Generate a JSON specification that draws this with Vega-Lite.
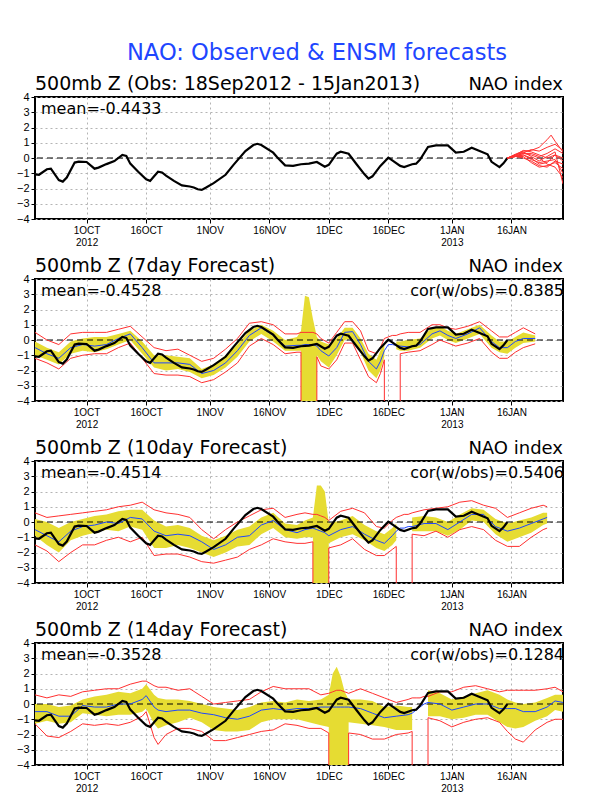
{
  "$schema": "https://vega.github.io/schema/vega-lite/v6.json",
  "background": "white",
  "padding": {"left": 15, "top": 42, "right": 10, "bottom": 5},
  "title": {"text": "NAO: Observed & ENSM forecasts", "color": "#1e46ff", "fontSize": 22.6, "anchor": "middle", "dx": 18, "baseline": "alphabetic", "offset": -9, "frame": "group"},
  "spacing": 60,
  "bounds": "flush",
  "datasets": {
    "obs": [
      {"date": "2012-09-18", "v": -1.07}, {"date": "2012-09-19", "v": -1.1}, {"date": "2012-09-21", "v": -0.74}, {"date": "2012-09-22", "v": -0.7},
      {"date": "2012-09-24", "v": -1.45}, {"date": "2012-09-25", "v": -1.55}, {"date": "2012-09-26", "v": -1.28}, {"date": "2012-09-28", "v": -0.3},
      {"date": "2012-09-29", "v": -0.24}, {"date": "2012-10-01", "v": -0.26}, {"date": "2012-10-03", "v": -0.7}, {"date": "2012-10-04", "v": -0.63},
      {"date": "2012-10-06", "v": -0.4}, {"date": "2012-10-08", "v": -0.2}, {"date": "2012-10-10", "v": 0.2}, {"date": "2012-10-11", "v": 0.13},
      {"date": "2012-10-12", "v": -0.37}, {"date": "2012-10-14", "v": -0.9}, {"date": "2012-10-16", "v": -1.4}, {"date": "2012-10-17", "v": -1.5},
      {"date": "2012-10-18", "v": -1.2}, {"date": "2012-10-19", "v": -0.9}, {"date": "2012-10-20", "v": -0.95}, {"date": "2012-10-21", "v": -1.15},
      {"date": "2012-10-23", "v": -1.5}, {"date": "2012-10-25", "v": -1.8}, {"date": "2012-10-27", "v": -1.87}, {"date": "2012-10-28", "v": -1.93},
      {"date": "2012-10-29", "v": -2.05}, {"date": "2012-10-30", "v": -2.09}, {"date": "2012-10-31", "v": -1.95}, {"date": "2012-11-02", "v": -1.65},
      {"date": "2012-11-05", "v": -1.1}, {"date": "2012-11-07", "v": -0.45}, {"date": "2012-11-10", "v": 0.45}, {"date": "2012-11-12", "v": 0.85},
      {"date": "2012-11-13", "v": 0.93}, {"date": "2012-11-14", "v": 0.85}, {"date": "2012-11-17", "v": 0.35}, {"date": "2012-11-18", "v": 0.05},
      {"date": "2012-11-20", "v": -0.48}, {"date": "2012-11-22", "v": -0.52}, {"date": "2012-11-24", "v": -0.41}, {"date": "2012-11-26", "v": -0.37},
      {"date": "2012-11-28", "v": -0.26}, {"date": "2012-11-30", "v": -0.57}, {"date": "2012-12-01", "v": -0.45}, {"date": "2012-12-03", "v": 0.28},
      {"date": "2012-12-04", "v": 0.41}, {"date": "2012-12-06", "v": 0.28}, {"date": "2012-12-08", "v": -0.41}, {"date": "2012-12-10", "v": -1.07},
      {"date": "2012-12-11", "v": -1.35}, {"date": "2012-12-12", "v": -1.2}, {"date": "2012-12-14", "v": -0.52}, {"date": "2012-12-16", "v": 0.02},
      {"date": "2012-12-17", "v": -0.15}, {"date": "2012-12-19", "v": -0.52}, {"date": "2012-12-20", "v": -0.59}, {"date": "2012-12-22", "v": -0.41},
      {"date": "2012-12-23", "v": -0.37}, {"date": "2012-12-24", "v": -0.1}, {"date": "2012-12-26", "v": 0.72}, {"date": "2012-12-28", "v": 0.83},
      {"date": "2012-12-31", "v": 0.83}, {"date": "2013-01-02", "v": 0.35}, {"date": "2013-01-04", "v": 0.41}, {"date": "2013-01-06", "v": 0.67},
      {"date": "2013-01-08", "v": 0.46}, {"date": "2013-01-10", "v": 0.24}, {"date": "2013-01-11", "v": -0.25}, {"date": "2013-01-13", "v": -0.6},
      {"date": "2013-01-14", "v": -0.35}, {"date": "2013-01-15", "v": 0.0}
    ],
    "ens": [
      {"member": 1, "date": "2013-01-15", "v": 0}, {"member": 1, "date": "2013-01-17", "v": 0.25}, {"member": 1, "date": "2013-01-19", "v": 0.45}, {"member": 1, "date": "2013-01-21", "v": 0.5}, {"member": 1, "date": "2013-01-23", "v": 0.7}, {"member": 1, "date": "2013-01-25", "v": 1.2}, {"member": 1, "date": "2013-01-26", "v": 1.5}, {"member": 1, "date": "2013-01-27", "v": 1.1}, {"member": 1, "date": "2013-01-29", "v": 0.4},
      {"member": 2, "date": "2013-01-15", "v": 0}, {"member": 2, "date": "2013-01-17", "v": 0.2}, {"member": 2, "date": "2013-01-19", "v": 0.35}, {"member": 2, "date": "2013-01-21", "v": 0.55}, {"member": 2, "date": "2013-01-23", "v": 0.45}, {"member": 2, "date": "2013-01-25", "v": 0.7}, {"member": 2, "date": "2013-01-27", "v": 0.9}, {"member": 2, "date": "2013-01-29", "v": 0.5},
      {"member": 3, "date": "2013-01-15", "v": 0}, {"member": 3, "date": "2013-01-17", "v": 0.15}, {"member": 3, "date": "2013-01-19", "v": 0.3}, {"member": 3, "date": "2013-01-21", "v": 0.3}, {"member": 3, "date": "2013-01-23", "v": 0.1}, {"member": 3, "date": "2013-01-25", "v": 0.3}, {"member": 3, "date": "2013-01-27", "v": 0.6}, {"member": 3, "date": "2013-01-29", "v": 0.3},
      {"member": 4, "date": "2013-01-15", "v": 0}, {"member": 4, "date": "2013-01-17", "v": 0.1}, {"member": 4, "date": "2013-01-19", "v": 0.2}, {"member": 4, "date": "2013-01-21", "v": 0.0}, {"member": 4, "date": "2013-01-23", "v": -0.4}, {"member": 4, "date": "2013-01-25", "v": -0.3}, {"member": 4, "date": "2013-01-27", "v": 0.2}, {"member": 4, "date": "2013-01-29", "v": -0.2},
      {"member": 5, "date": "2013-01-15", "v": 0}, {"member": 5, "date": "2013-01-17", "v": 0.1}, {"member": 5, "date": "2013-01-19", "v": 0.1}, {"member": 5, "date": "2013-01-21", "v": -0.3}, {"member": 5, "date": "2013-01-23", "v": -0.6}, {"member": 5, "date": "2013-01-25", "v": -0.5}, {"member": 5, "date": "2013-01-27", "v": -0.3}, {"member": 5, "date": "2013-01-29", "v": -0.7},
      {"member": 6, "date": "2013-01-15", "v": 0}, {"member": 6, "date": "2013-01-17", "v": 0.1}, {"member": 6, "date": "2013-01-19", "v": 0.2}, {"member": 6, "date": "2013-01-21", "v": -0.1}, {"member": 6, "date": "2013-01-23", "v": -0.3}, {"member": 6, "date": "2013-01-25", "v": -0.2}, {"member": 6, "date": "2013-01-27", "v": -0.1}, {"member": 6, "date": "2013-01-29", "v": -1.0},
      {"member": 7, "date": "2013-01-15", "v": 0}, {"member": 7, "date": "2013-01-17", "v": 0.2}, {"member": 7, "date": "2013-01-19", "v": 0.4}, {"member": 7, "date": "2013-01-21", "v": 0.1}, {"member": 7, "date": "2013-01-23", "v": -0.2}, {"member": 7, "date": "2013-01-25", "v": 0.1}, {"member": 7, "date": "2013-01-27", "v": 0.4}, {"member": 7, "date": "2013-01-29", "v": -1.7},
      {"member": 8, "date": "2013-01-15", "v": 0}, {"member": 8, "date": "2013-01-17", "v": 0.1}, {"member": 8, "date": "2013-01-19", "v": 0.3}, {"member": 8, "date": "2013-01-21", "v": 0.2}, {"member": 8, "date": "2013-01-23", "v": 0.0}, {"member": 8, "date": "2013-01-25", "v": -0.4}, {"member": 8, "date": "2013-01-27", "v": -0.6}, {"member": 8, "date": "2013-01-29", "v": -1.3},
      {"member": 9, "date": "2013-01-15", "v": 0}, {"member": 9, "date": "2013-01-17", "v": 0.2}, {"member": 9, "date": "2013-01-19", "v": 0.5}, {"member": 9, "date": "2013-01-21", "v": 0.4}, {"member": 9, "date": "2013-01-23", "v": 0.2}, {"member": 9, "date": "2013-01-25", "v": 0.0}, {"member": 9, "date": "2013-01-27", "v": 0.2}, {"member": 9, "date": "2013-01-29", "v": 0.0},
      {"member": 10, "date": "2013-01-15", "v": 0}, {"member": 10, "date": "2013-01-17", "v": 0.1}, {"member": 10, "date": "2013-01-19", "v": 0.0}, {"member": 10, "date": "2013-01-21", "v": -0.2}, {"member": 10, "date": "2013-01-23", "v": -0.5}, {"member": 10, "date": "2013-01-25", "v": -0.6}, {"member": 10, "date": "2013-01-27", "v": -0.2}, {"member": 10, "date": "2013-01-29", "v": -0.4}
    ],
    "p2": [
      {"date": "2012-09-18", "mean": -0.5, "blo": -1.0, "bhi": -0.1, "rlo": -1.2, "rhi": 0.5},
      {"date": "2012-09-21", "mean": -0.9, "blo": -1.3, "bhi": -0.5, "rlo": -1.5, "rhi": 0.0},
      {"date": "2012-09-24", "mean": -1.2, "blo": -1.6, "bhi": -0.8, "rlo": -1.9, "rhi": -0.3},
      {"date": "2012-09-27", "mean": -0.5, "blo": -0.9, "bhi": -0.1, "rlo": -1.2, "rhi": 0.4},
      {"date": "2012-09-30", "mean": -0.3, "blo": -0.7, "bhi": 0.1, "rlo": -1.0, "rhi": 0.5},
      {"date": "2012-10-03", "mean": -0.4, "blo": -0.8, "bhi": 0.2, "rlo": -0.9, "rhi": 0.5},
      {"date": "2012-10-06", "mean": -0.3, "blo": -0.6, "bhi": 0.2, "rlo": -0.9, "rhi": 0.5},
      {"date": "2012-10-09", "mean": 0.1, "blo": -0.3, "bhi": 0.4, "rlo": -0.5, "rhi": 0.7},
      {"date": "2012-10-12", "mean": 0.4, "blo": 0.0, "bhi": 0.6, "rlo": -0.2, "rhi": 0.9},
      {"date": "2012-10-15", "mean": -0.5, "blo": -0.9, "bhi": -0.1, "rlo": -1.2, "rhi": 0.2},
      {"date": "2012-10-18", "mean": -1.5, "blo": -1.8, "bhi": -1.0, "rlo": -2.2, "rhi": -0.5},
      {"date": "2012-10-21", "mean": -1.5, "blo": -2.0, "bhi": -1.0, "rlo": -2.3, "rhi": -0.7},
      {"date": "2012-10-24", "mean": -1.5, "blo": -1.9, "bhi": -1.1, "rlo": -2.3, "rhi": -0.6},
      {"date": "2012-10-27", "mean": -1.6, "blo": -2.1, "bhi": -1.2, "rlo": -2.4, "rhi": -1.0},
      {"date": "2012-10-30", "mean": -2.2, "blo": -2.5, "bhi": -1.9, "rlo": -2.8, "rhi": -1.4},
      {"date": "2012-11-02", "mean": -2.0, "blo": -2.3, "bhi": -1.6, "rlo": -2.6, "rhi": -1.2},
      {"date": "2012-11-05", "mean": -1.5, "blo": -1.8, "bhi": -1.0, "rlo": -2.1, "rhi": -0.6},
      {"date": "2012-11-08", "mean": -0.7, "blo": -1.1, "bhi": -0.3, "rlo": -1.5, "rhi": 0.1},
      {"date": "2012-11-11", "mean": 0.3, "blo": -0.1, "bhi": 0.6, "rlo": -0.4, "rhi": 1.1},
      {"date": "2012-11-14", "mean": 0.8, "blo": 0.4, "bhi": 1.0, "rlo": 0.1, "rhi": 1.2},
      {"date": "2012-11-17", "mean": 0.3, "blo": -0.1, "bhi": 0.6, "rlo": -0.3, "rhi": 1.0},
      {"date": "2012-11-20", "mean": -0.4, "blo": -0.7, "bhi": 0.0, "rlo": -0.9, "rhi": 0.4},
      {"date": "2012-11-23", "mean": -0.35, "blo": -0.7, "bhi": 0.2, "rlo": -0.8, "rhi": 0.4},
      {"date": "2012-11-24", "mean": -0.35, "blo": -0.7, "bhi": 0.6, "rlo": -0.8, "rhi": 0.5},
      {"date": "2012-11-25", "mean": -0.3, "blo": -999, "bhi": 2.9, "rlo": -999, "rhi": 0.5},
      {"date": "2012-11-26", "mean": -0.3, "blo": -999, "bhi": 2.8, "rlo": -999, "rhi": 0.5},
      {"date": "2012-11-27", "mean": -0.3, "blo": -999, "bhi": 1.4, "rlo": -999, "rhi": 0.5},
      {"date": "2012-11-28", "mean": -0.4, "blo": -1.0, "bhi": 0.2, "rlo": -1.1, "rhi": 0.4},
      {"date": "2012-11-29", "mean": -0.7, "blo": -1.4, "bhi": -0.1, "rlo": -1.7, "rhi": 0.1},
      {"date": "2012-12-01", "mean": -1.05, "blo": -1.8, "bhi": -0.3, "rlo": -1.9, "rhi": -0.2},
      {"date": "2012-12-03", "mean": -0.5, "blo": -1.0, "bhi": 0.1, "rlo": -1.3, "rhi": 0.5},
      {"date": "2012-12-05", "mean": 0.5, "blo": 0.0, "bhi": 0.8, "rlo": -0.2, "rhi": 1.2},
      {"date": "2012-12-07", "mean": 0.55, "blo": 0.1, "bhi": 0.8, "rlo": -0.2, "rhi": 1.2},
      {"date": "2012-12-09", "mean": -0.3, "blo": -0.8, "bhi": 0.1, "rlo": -1.3, "rhi": 0.6},
      {"date": "2012-12-11", "mean": -1.4, "blo": -2.0, "bhi": -0.9, "rlo": -2.4, "rhi": -0.7},
      {"date": "2012-12-13", "mean": -1.9, "blo": -2.5, "bhi": -1.3, "rlo": -2.8, "rhi": -0.9},
      {"date": "2012-12-14", "mean": -1.4, "blo": -2.0, "bhi": -0.7, "rlo": -2.2, "rhi": -0.5},
      {"date": "2012-12-15", "mean": -0.7, "blo": -1.1, "bhi": -0.2, "rlo": -1.3, "rhi": 0.1},
      {"date": "2012-12-16", "mean": -0.3, "blo": -999, "bhi": -999, "rlo": -999, "rhi": 0.2},
      {"date": "2012-12-17", "mean": -0.3, "blo": -999, "bhi": -999, "rlo": -999, "rhi": 0.3},
      {"date": "2012-12-18", "mean": -0.35, "blo": -0.6, "bhi": -0.1, "rlo": -999, "rhi": 0.3},
      {"date": "2012-12-19", "mean": -0.4, "blo": -0.7, "bhi": -0.1, "rlo": -0.9, "rhi": 0.4},
      {"date": "2012-12-21", "mean": -0.45, "blo": -0.7, "bhi": 0.0, "rlo": -0.8, "rhi": 0.5},
      {"date": "2012-12-24", "mean": -0.3, "blo": -0.5, "bhi": 0.1, "rlo": -0.7, "rhi": 0.5},
      {"date": "2012-12-27", "mean": 0.4, "blo": 0.1, "bhi": 0.8, "rlo": -0.3, "rhi": 1.0},
      {"date": "2012-12-29", "mean": 0.6, "blo": 0.3, "bhi": 0.9, "rlo": 0.0, "rhi": 1.0},
      {"date": "2012-12-31", "mean": 0.3, "blo": 0.0, "bhi": 0.6, "rlo": -0.2, "rhi": 0.8},
      {"date": "2013-01-02", "mean": 0.1, "blo": -0.2, "bhi": 0.4, "rlo": -0.4, "rhi": 0.7},
      {"date": "2013-01-05", "mean": 0.4, "blo": 0.1, "bhi": 0.7, "rlo": -0.2, "rhi": 0.9},
      {"date": "2013-01-08", "mean": 0.8, "blo": 0.4, "bhi": 1.0, "rlo": 0.1, "rhi": 1.2},
      {"date": "2013-01-11", "mean": -0.1, "blo": -0.5, "bhi": 0.3, "rlo": -0.8, "rhi": 0.6},
      {"date": "2013-01-13", "mean": -0.5, "blo": -0.8, "bhi": -0.1, "rlo": -1.2, "rhi": 0.2},
      {"date": "2013-01-15", "mean": -0.5, "blo": -0.9, "bhi": -0.1, "rlo": -1.2, "rhi": 0.2},
      {"date": "2013-01-17", "mean": -0.1, "blo": -0.5, "bhi": 0.2, "rlo": -0.8, "rhi": 0.5},
      {"date": "2013-01-19", "mean": 0.1, "blo": -0.2, "bhi": 0.5, "rlo": -0.5, "rhi": 0.8},
      {"date": "2013-01-22", "mean": 0.1, "blo": -0.1, "bhi": 0.3, "rlo": -0.25, "rhi": 0.4}
    ],
    "p3": [
      {"date": "2012-09-18", "mean": -0.5, "blo": -0.9, "bhi": 0.2, "rlo": -1.5, "rhi": 0.6},
      {"date": "2012-09-21", "mean": -0.9, "blo": -1.5, "bhi": 0.0, "rlo": -1.9, "rhi": 0.3},
      {"date": "2012-09-24", "mean": -1.3, "blo": -2.0, "bhi": -0.4, "rlo": -2.6, "rhi": 0.4},
      {"date": "2012-09-27", "mean": -0.6, "blo": -1.2, "bhi": 0.0, "rlo": -2.0, "rhi": 0.5},
      {"date": "2012-09-30", "mean": -0.3, "blo": -0.9, "bhi": 0.2, "rlo": -1.5, "rhi": 0.6},
      {"date": "2012-10-03", "mean": -0.2, "blo": -0.7, "bhi": 0.4, "rlo": -1.5, "rhi": 0.7},
      {"date": "2012-10-06", "mean": 0.0, "blo": -0.5, "bhi": 0.5, "rlo": -1.2, "rhi": 0.8},
      {"date": "2012-10-09", "mean": -0.1, "blo": -0.6, "bhi": 0.7, "rlo": -1.0, "rhi": 1.0},
      {"date": "2012-10-12", "mean": 0.3, "blo": -0.3, "bhi": 0.8, "rlo": -1.3, "rhi": 1.1},
      {"date": "2012-10-15", "mean": 0.2, "blo": -0.5, "bhi": 0.8, "rlo": -1.0, "rhi": 1.3},
      {"date": "2012-10-18", "mean": -0.6, "blo": -1.7, "bhi": 0.1, "rlo": -2.2, "rhi": 0.8},
      {"date": "2012-10-21", "mean": -0.9, "blo": -1.7, "bhi": -0.3, "rlo": -2.1, "rhi": 0.6},
      {"date": "2012-10-24", "mean": -0.8, "blo": -1.5, "bhi": -0.2, "rlo": -2.1, "rhi": 0.5},
      {"date": "2012-10-27", "mean": -0.9, "blo": -1.7, "bhi": -0.4, "rlo": -2.3, "rhi": 0.3},
      {"date": "2012-10-30", "mean": -1.3, "blo": -2.0, "bhi": -0.9, "rlo": -2.6, "rhi": -0.5},
      {"date": "2012-11-02", "mean": -1.8, "blo": -2.3, "bhi": -1.2, "rlo": -2.7, "rhi": -1.1},
      {"date": "2012-11-05", "mean": -1.5, "blo": -2.0, "bhi": -0.9, "rlo": -2.5, "rhi": -0.5},
      {"date": "2012-11-08", "mean": -1.0, "blo": -1.6, "bhi": -0.5, "rlo": -2.3, "rhi": 0.0},
      {"date": "2012-11-11", "mean": -0.9, "blo": -1.5, "bhi": -0.3, "rlo": -1.8, "rhi": 0.4},
      {"date": "2012-11-14", "mean": -0.2, "blo": -0.8, "bhi": 0.3, "rlo": -1.5, "rhi": 0.8},
      {"date": "2012-11-17", "mean": 0.1, "blo": -0.4, "bhi": 0.6, "rlo": -1.1, "rhi": 0.9},
      {"date": "2012-11-20", "mean": -0.5, "blo": -1.0, "bhi": -0.1, "rlo": -1.3, "rhi": 0.3},
      {"date": "2012-11-23", "mean": -0.7, "blo": -1.1, "bhi": -0.2, "rlo": -1.4, "rhi": 0.5},
      {"date": "2012-11-25", "mean": -0.5, "blo": -1.0, "bhi": 0.1, "rlo": -1.4, "rhi": 0.6},
      {"date": "2012-11-27", "mean": -0.4, "blo": -1.0, "bhi": 0.3, "rlo": -1.3, "rhi": 0.5},
      {"date": "2012-11-28", "mean": -0.5, "blo": -999, "bhi": 2.4, "rlo": -999, "rhi": 0.5},
      {"date": "2012-11-29", "mean": -0.6, "blo": -999, "bhi": 2.4, "rlo": -999, "rhi": 0.4},
      {"date": "2012-11-30", "mean": -0.7, "blo": -999, "bhi": 2.0, "rlo": -999, "rhi": 0.3},
      {"date": "2012-12-01", "mean": -0.9, "blo": -1.4, "bhi": -0.1, "rlo": -1.7, "rhi": 0.1},
      {"date": "2012-12-04", "mean": -0.5, "blo": -1.0, "bhi": 0.1, "rlo": -1.5, "rhi": 0.7},
      {"date": "2012-12-07", "mean": -0.3, "blo": -0.8, "bhi": 0.4, "rlo": -1.1, "rhi": 0.9},
      {"date": "2012-12-10", "mean": -0.8, "blo": -1.2, "bhi": -0.2, "rlo": -1.8, "rhi": 0.6},
      {"date": "2012-12-13", "mean": -1.2, "blo": -1.7, "bhi": -0.6, "rlo": -2.2, "rhi": -0.3},
      {"date": "2012-12-15", "mean": -1.4, "blo": -1.9, "bhi": -0.8, "rlo": -2.2, "rhi": -0.4},
      {"date": "2012-12-17", "mean": -0.9, "blo": -1.5, "bhi": -0.4, "rlo": -1.8, "rhi": 0.1},
      {"date": "2012-12-18", "mean": -0.6, "blo": -1.2, "bhi": -0.1, "rlo": -1.6, "rhi": 0.3},
      {"date": "2012-12-19", "mean": -0.4, "blo": -999, "bhi": -999, "rlo": -999, "rhi": 0.4},
      {"date": "2012-12-20", "mean": -0.4, "blo": -999, "bhi": -999, "rlo": -999, "rhi": 0.5},
      {"date": "2012-12-21", "mean": -0.3, "blo": -999, "bhi": -999, "rlo": -999, "rhi": 0.5},
      {"date": "2012-12-22", "mean": -0.3, "blo": -0.6, "bhi": 0.3, "rlo": -0.8, "rhi": 0.6},
      {"date": "2012-12-25", "mean": -0.1, "blo": -0.6, "bhi": 0.4, "rlo": -0.9, "rhi": 0.8},
      {"date": "2012-12-28", "mean": -0.1, "blo": -0.6, "bhi": 0.3, "rlo": -0.6, "rhi": 0.9},
      {"date": "2012-12-31", "mean": -0.5, "blo": -0.9, "bhi": 0.0, "rlo": -1.0, "rhi": 1.0},
      {"date": "2013-01-03", "mean": 0.0, "blo": -0.5, "bhi": 0.5, "rlo": -0.5, "rhi": 1.3},
      {"date": "2013-01-06", "mean": 0.5, "blo": 0.1, "bhi": 0.9, "rlo": -0.3, "rhi": 1.4},
      {"date": "2013-01-09", "mean": 0.5, "blo": 0.0, "bhi": 0.8, "rlo": -0.5, "rhi": 1.1},
      {"date": "2013-01-12", "mean": -0.3, "blo": -0.8, "bhi": 0.2, "rlo": -1.2, "rhi": 0.9},
      {"date": "2013-01-15", "mean": -0.6, "blo": -1.3, "bhi": -0.1, "rlo": -1.6, "rhi": 0.3},
      {"date": "2013-01-18", "mean": -0.4, "blo": -1.0, "bhi": 0.1, "rlo": -1.6, "rhi": 0.6},
      {"date": "2013-01-21", "mean": -0.1, "blo": -0.7, "bhi": 0.3, "rlo": -1.0, "rhi": 0.9},
      {"date": "2013-01-24", "mean": 0.2, "blo": -0.2, "bhi": 0.6, "rlo": -0.5, "rhi": 1.1},
      {"date": "2013-01-25", "mean": 0.3, "blo": -0.1, "bhi": 0.6, "rlo": -0.4, "rhi": 1.0}
    ],
    "p4": [
      {"date": "2012-09-18", "mean": -0.5, "blo": -1.3, "bhi": 0.0, "rlo": -1.3, "rhi": 0.6},
      {"date": "2012-09-21", "mean": -0.5, "blo": -1.1, "bhi": 0.0, "rlo": -2.1, "rhi": 0.4},
      {"date": "2012-09-24", "mean": -0.8, "blo": -1.3, "bhi": -0.2, "rlo": -2.2, "rhi": 0.6},
      {"date": "2012-09-27", "mean": -0.8, "blo": -1.2, "bhi": -0.1, "rlo": -1.8, "rhi": 0.5},
      {"date": "2012-09-30", "mean": -0.1, "blo": -0.6, "bhi": 0.3, "rlo": -1.3, "rhi": 0.8},
      {"date": "2012-10-03", "mean": -0.2, "blo": -0.7, "bhi": 0.5, "rlo": -1.4, "rhi": 0.9},
      {"date": "2012-10-06", "mean": -0.2, "blo": -0.8, "bhi": 0.6, "rlo": -1.3, "rhi": 1.0},
      {"date": "2012-10-09", "mean": 0.0, "blo": -0.7, "bhi": 0.8, "rlo": -1.4, "rhi": 1.0},
      {"date": "2012-10-12", "mean": 0.0, "blo": -0.7, "bhi": 0.7, "rlo": -1.2, "rhi": 1.3},
      {"date": "2012-10-15", "mean": 0.3, "blo": -0.5, "bhi": 1.0, "rlo": -0.8, "rhi": 1.5},
      {"date": "2012-10-16", "mean": 0.55, "blo": -0.3, "bhi": 1.3, "rlo": -0.5, "rhi": 1.5},
      {"date": "2012-10-18", "mean": -0.2, "blo": -1.3, "bhi": 0.6, "rlo": -2.2, "rhi": 1.2},
      {"date": "2012-10-19", "mean": -0.4, "blo": -1.6, "bhi": 0.4, "rlo": -2.65, "rhi": 1.1},
      {"date": "2012-10-21", "mean": -0.5, "blo": -1.4, "bhi": 0.3, "rlo": -2.0, "rhi": 1.1},
      {"date": "2012-10-24", "mean": -0.4, "blo": -1.2, "bhi": 0.3, "rlo": -1.6, "rhi": 0.9},
      {"date": "2012-10-27", "mean": -0.4, "blo": -0.9, "bhi": 0.2, "rlo": -1.6, "rhi": 1.0},
      {"date": "2012-10-30", "mean": -0.6, "blo": -1.2, "bhi": 0.0, "rlo": -1.8, "rhi": 0.5},
      {"date": "2012-11-02", "mean": -0.7, "blo": -1.7, "bhi": -0.2, "rlo": -2.4, "rhi": 0.0},
      {"date": "2012-11-05", "mean": -0.9, "blo": -1.8, "bhi": -0.3, "rlo": -2.4, "rhi": 0.1},
      {"date": "2012-11-08", "mean": -1.0, "blo": -1.8, "bhi": -0.4, "rlo": -2.2, "rhi": 0.2},
      {"date": "2012-11-11", "mean": -0.8, "blo": -1.7, "bhi": -0.2, "rlo": -2.0, "rhi": 0.3},
      {"date": "2012-11-14", "mean": -0.4, "blo": -1.2, "bhi": 0.1, "rlo": -1.8, "rhi": 0.8},
      {"date": "2012-11-17", "mean": -0.3, "blo": -1.0, "bhi": 0.2, "rlo": -1.7, "rhi": 1.15},
      {"date": "2012-11-20", "mean": -0.4, "blo": -1.0, "bhi": 0.1, "rlo": -1.3, "rhi": 1.0},
      {"date": "2012-11-23", "mean": -0.3, "blo": -1.0, "bhi": 0.3, "rlo": -1.4, "rhi": 1.0},
      {"date": "2012-11-26", "mean": -0.3, "blo": -1.2, "bhi": 0.2, "rlo": -1.6, "rhi": 1.0},
      {"date": "2012-11-29", "mean": -0.2, "blo": -1.4, "bhi": 0.3, "rlo": -1.6, "rhi": 0.6},
      {"date": "2012-12-01", "mean": -0.2, "blo": -1.5, "bhi": 0.6, "rlo": -1.9, "rhi": 0.7},
      {"date": "2012-12-02", "mean": -0.2, "blo": -999, "bhi": 2.0, "rlo": -999, "rhi": 0.8},
      {"date": "2012-12-03", "mean": -0.2, "blo": -999, "bhi": 2.45, "rlo": -999, "rhi": 0.9},
      {"date": "2012-12-04", "mean": -0.2, "blo": -999, "bhi": 1.8, "rlo": -999, "rhi": 0.9},
      {"date": "2012-12-05", "mean": -0.2, "blo": -999, "bhi": 0.8, "rlo": -999, "rhi": 0.8},
      {"date": "2012-12-06", "mean": -0.2, "blo": -1.2, "bhi": 0.3, "rlo": -1.9, "rhi": 0.7},
      {"date": "2012-12-09", "mean": -0.3, "blo": -1.3, "bhi": 0.3, "rlo": -2.0, "rhi": 1.0},
      {"date": "2012-12-12", "mean": -0.6, "blo": -1.4, "bhi": 0.2, "rlo": -2.3, "rhi": 0.7},
      {"date": "2012-12-15", "mean": -0.9, "blo": -1.5, "bhi": -0.2, "rlo": -2.3, "rhi": 0.4},
      {"date": "2012-12-18", "mean": -0.8, "blo": -1.7, "bhi": -0.1, "rlo": -2.0, "rhi": 0.1},
      {"date": "2012-12-21", "mean": -0.7, "blo": -1.7, "bhi": -0.2, "rlo": -1.9, "rhi": 0.3},
      {"date": "2012-12-22", "mean": -0.6, "blo": -1.7, "bhi": -0.2, "rlo": -1.8, "rhi": 0.4},
      {"date": "2012-12-23", "mean": -0.4, "blo": -999, "bhi": -999, "rlo": -999, "rhi": 0.4},
      {"date": "2012-12-24", "mean": -0.2, "blo": -999, "bhi": -999, "rlo": -999, "rhi": 0.4},
      {"date": "2012-12-25", "mean": 0.0, "blo": -999, "bhi": -999, "rlo": -999, "rhi": 0.5},
      {"date": "2012-12-26", "mean": 0.1, "blo": -0.8, "bhi": 0.9, "rlo": -0.9, "rhi": 0.5},
      {"date": "2012-12-29", "mean": 0.0, "blo": -0.8, "bhi": 0.7, "rlo": -1.1, "rhi": 0.8},
      {"date": "2013-01-01", "mean": -0.4, "blo": -1.0, "bhi": 0.3, "rlo": -1.5, "rhi": 0.8},
      {"date": "2013-01-04", "mean": -0.2, "blo": -0.9, "bhi": 0.5, "rlo": -1.2, "rhi": 1.1},
      {"date": "2013-01-07", "mean": 0.0, "blo": -0.7, "bhi": 0.7, "rlo": -1.0, "rhi": 1.2},
      {"date": "2013-01-10", "mean": 0.0, "blo": -0.7, "bhi": 0.9, "rlo": -0.9, "rhi": 1.0},
      {"date": "2013-01-13", "mean": -0.3, "blo": -1.2, "bhi": 0.6, "rlo": -1.2, "rhi": 0.8},
      {"date": "2013-01-15", "mean": -0.3, "blo": -1.5, "bhi": 0.3, "rlo": -1.8, "rhi": 0.9},
      {"date": "2013-01-17", "mean": -0.3, "blo": -1.6, "bhi": 0.1, "rlo": -2.3, "rhi": 0.9},
      {"date": "2013-01-19", "mean": -0.5, "blo": -1.5, "bhi": 0.0, "rlo": -2.5, "rhi": 0.9},
      {"date": "2013-01-22", "mean": -0.5, "blo": -1.1, "bhi": 0.1, "rlo": -1.7, "rhi": 0.9},
      {"date": "2013-01-25", "mean": -0.2, "blo": -0.8, "bhi": 0.4, "rlo": -1.2, "rhi": 1.0},
      {"date": "2013-01-27", "mean": 0.2, "blo": -0.4, "bhi": 0.6, "rlo": -1.0, "rhi": 1.1},
      {"date": "2013-01-29", "mean": 0.1, "blo": -0.5, "bhi": 0.6, "rlo": -1.0, "rhi": 0.8}
    ]
  },
  "vconcat": [
    {
      "width": 528, "height": 122,
      "layer": [
        {"data": {"values": [{"z": 0}]}, "mark": {"type": "rule", "color": "black", "strokeDash": [6, 4], "strokeWidth": 1.2},
         "encoding": {"y": {"field": "z", "type": "quantitative", "scale": {"domain": [-4, 4], "nice": false}, "title": null, "axis": {"values": [-4, -3, -2, -1, 0, 1, 2, 3, 4], "tickCount": 9, "labelOverlap": false, "grid": true}}}},
        {"data": {"name": "obs"}, "mark": {"type": "line", "color": "black", "strokeWidth": 2.2, "clip": true},
         "encoding": {
           "x": {"field": "date", "type": "temporal", "title": null, "scale": {"type": "utc", "domain": [{"year": 2012, "month": 9, "date": 18, "utc": true}, {"year": 2013, "month": 1, "date": 29, "utc": true}]},
                 "axis": {"values": [{"year": 2012, "month": 10, "date": 1, "utc": true}, {"year": 2012, "month": 10, "date": 16, "utc": true}, {"year": 2012, "month": 11, "date": 1, "utc": true}, {"year": 2012, "month": 11, "date": 16, "utc": true}, {"year": 2012, "month": 12, "date": 1, "utc": true}, {"year": 2012, "month": 12, "date": 16, "utc": true}, {"year": 2013, "month": 1, "date": 1, "utc": true}, {"year": 2013, "month": 1, "date": 16, "utc": true}],
                          "labelExpr": "(utcdate(datum.value) == 1 && (utcmonth(datum.value) == 9 || utcmonth(datum.value) == 0)) ? [upper(utcFormat(datum.value, '%-d%b')), utcFormat(datum.value, '%Y')] : upper(utcFormat(datum.value, '%-d%b'))"}},
           "y": {"field": "v", "type": "quantitative", "title": null, "scale": {"domain": [-4, 4], "nice": false}, "axis": {"values": [-4, -3, -2, -1, 0, 1, 2, 3, 4], "tickCount": 9, "labelOverlap": false, "grid": true}}
         }},
        {"data": {"name": "ens"}, "mark": {"type": "line", "color": "#ff3030", "strokeWidth": 1, "clip": true},
         "encoding": {
           "x": {"field": "date", "type": "temporal", "title": null, "scale": {"type": "utc", "domain": [{"year": 2012, "month": 9, "date": 18, "utc": true}, {"year": 2013, "month": 1, "date": 29, "utc": true}]}},
           "y": {"field": "v", "type": "quantitative", "title": null, "scale": {"domain": [-4, 4], "nice": false}},
           "detail": {"field": "member", "type": "nominal"}
         }},
        {"data": {"values": [{"label": "mean=-0.4433"}]}, "mark": {"type": "text", "align": "left", "baseline": "top", "dx": 6, "dy": 4, "fontSize": 16},
         "encoding": {"x": {"datum": {"year": 2012, "month": 9, "date": 18, "utc": true}, "type": "temporal", "scale": {"type": "utc", "domain": [{"year": 2012, "month": 9, "date": 18, "utc": true}, {"year": 2013, "month": 1, "date": 29, "utc": true}]}}, "y": {"datum": 4, "type": "quantitative", "scale": {"domain": [-4, 4], "nice": false}}, "text": {"field": "label"}}},
        {"data": {"values": [{"label": "500mb Z (Obs: 18Sep2012 - 15Jan2013)"}]}, "mark": {"type": "text", "align": "left", "baseline": "alphabetic", "dy": -7, "fontSize": 19},
         "encoding": {"x": {"datum": {"year": 2012, "month": 9, "date": 18, "utc": true}, "type": "temporal", "scale": {"type": "utc", "domain": [{"year": 2012, "month": 9, "date": 18, "utc": true}, {"year": 2013, "month": 1, "date": 29, "utc": true}]}}, "y": {"datum": 4, "type": "quantitative", "scale": {"domain": [-4, 4], "nice": false}}, "text": {"field": "label"}}},
        {"data": {"values": [{"label": "NAO index"}]}, "mark": {"type": "text", "align": "right", "baseline": "alphabetic", "dy": -7, "fontSize": 18},
         "encoding": {"x": {"datum": {"year": 2013, "month": 1, "date": 29, "utc": true}, "type": "temporal", "scale": {"type": "utc", "domain": [{"year": 2012, "month": 9, "date": 18, "utc": true}, {"year": 2013, "month": 1, "date": 29, "utc": true}]}}, "y": {"datum": 4, "type": "quantitative", "scale": {"domain": [-4, 4], "nice": false}}, "text": {"field": "label"}}}
      ]
    },
    {
      "width": 528, "height": 122,
      "layer": [
        {"data": {"name": "p2"}, "mark": {"type": "area", "color": "#e6dc32", "clip": true},
         "encoding": {
           "x": {"field": "date", "type": "temporal", "title": null, "scale": {"type": "utc", "domain": [{"year": 2012, "month": 9, "date": 18, "utc": true}, {"year": 2013, "month": 1, "date": 29, "utc": true}]},
                 "axis": {"values": [{"year": 2012, "month": 10, "date": 1, "utc": true}, {"year": 2012, "month": 10, "date": 16, "utc": true}, {"year": 2012, "month": 11, "date": 1, "utc": true}, {"year": 2012, "month": 11, "date": 16, "utc": true}, {"year": 2012, "month": 12, "date": 1, "utc": true}, {"year": 2012, "month": 12, "date": 16, "utc": true}, {"year": 2013, "month": 1, "date": 1, "utc": true}, {"year": 2013, "month": 1, "date": 16, "utc": true}],
                          "labelExpr": "(utcdate(datum.value) == 1 && (utcmonth(datum.value) == 9 || utcmonth(datum.value) == 0)) ? [upper(utcFormat(datum.value, '%-d%b')), utcFormat(datum.value, '%Y')] : upper(utcFormat(datum.value, '%-d%b'))"}},
           "y": {"field": "bhi", "type": "quantitative", "title": null, "scale": {"domain": [-4, 4], "nice": false}, "axis": {"values": [-4, -3, -2, -1, 0, 1, 2, 3, 4], "tickCount": 9, "labelOverlap": false, "grid": true}},
           "y2": {"field": "blo"}
         }},
        {"data": {"values": [{"z": 0}]}, "mark": {"type": "rule", "color": "black", "strokeDash": [6, 4], "strokeWidth": 1.2},
         "encoding": {"y": {"field": "z", "type": "quantitative", "scale": {"domain": [-4, 4], "nice": false}, "title": null}}},
        {"data": {"name": "p2"}, "mark": {"type": "line", "color": "#ff3030", "strokeWidth": 1, "clip": true},
         "encoding": {"x": {"field": "date", "type": "temporal", "title": null, "scale": {"type": "utc", "domain": [{"year": 2012, "month": 9, "date": 18, "utc": true}, {"year": 2013, "month": 1, "date": 29, "utc": true}]}}, "y": {"field": "rhi", "type": "quantitative", "title": null, "scale": {"domain": [-4, 4], "nice": false}}}},
        {"data": {"name": "p2"}, "mark": {"type": "line", "color": "#ff3030", "strokeWidth": 1, "clip": true},
         "encoding": {"x": {"field": "date", "type": "temporal", "title": null, "scale": {"type": "utc", "domain": [{"year": 2012, "month": 9, "date": 18, "utc": true}, {"year": 2013, "month": 1, "date": 29, "utc": true}]}}, "y": {"field": "rlo", "type": "quantitative", "title": null, "scale": {"domain": [-4, 4], "nice": false}}}},
        {"data": {"name": "p2"}, "mark": {"type": "line", "color": "#1e46ff", "strokeWidth": 1, "clip": true},
         "encoding": {"x": {"field": "date", "type": "temporal", "title": null, "scale": {"type": "utc", "domain": [{"year": 2012, "month": 9, "date": 18, "utc": true}, {"year": 2013, "month": 1, "date": 29, "utc": true}]}}, "y": {"field": "mean", "type": "quantitative", "title": null, "scale": {"domain": [-4, 4], "nice": false}}}},
        {"data": {"name": "obs"}, "mark": {"type": "line", "color": "black", "strokeWidth": 2.2, "clip": true},
         "encoding": {"x": {"field": "date", "type": "temporal", "title": null, "scale": {"type": "utc", "domain": [{"year": 2012, "month": 9, "date": 18, "utc": true}, {"year": 2013, "month": 1, "date": 29, "utc": true}]}}, "y": {"field": "v", "type": "quantitative", "title": null, "scale": {"domain": [-4, 4], "nice": false}}}},
        {"data": {"values": [{"label": "mean=-0.4528"}]}, "mark": {"type": "text", "align": "left", "baseline": "top", "dx": 6, "dy": 4, "fontSize": 16},
         "encoding": {"x": {"datum": {"year": 2012, "month": 9, "date": 18, "utc": true}, "type": "temporal", "scale": {"type": "utc", "domain": [{"year": 2012, "month": 9, "date": 18, "utc": true}, {"year": 2013, "month": 1, "date": 29, "utc": true}]}}, "y": {"datum": 4, "type": "quantitative", "scale": {"domain": [-4, 4], "nice": false}}, "text": {"field": "label"}}},
        {"data": {"values": [{"label": "cor(w/obs)=0.8385"}]}, "mark": {"type": "text", "align": "right", "baseline": "top", "dx": 1, "dy": 4, "fontSize": 16},
         "encoding": {"x": {"datum": {"year": 2013, "month": 1, "date": 29, "utc": true}, "type": "temporal", "scale": {"type": "utc", "domain": [{"year": 2012, "month": 9, "date": 18, "utc": true}, {"year": 2013, "month": 1, "date": 29, "utc": true}]}}, "y": {"datum": 4, "type": "quantitative", "scale": {"domain": [-4, 4], "nice": false}}, "text": {"field": "label"}}},
        {"data": {"values": [{"label": "500mb Z (7day Forecast)"}]}, "mark": {"type": "text", "align": "left", "baseline": "alphabetic", "dy": -7, "fontSize": 19},
         "encoding": {"x": {"datum": {"year": 2012, "month": 9, "date": 18, "utc": true}, "type": "temporal", "scale": {"type": "utc", "domain": [{"year": 2012, "month": 9, "date": 18, "utc": true}, {"year": 2013, "month": 1, "date": 29, "utc": true}]}}, "y": {"datum": 4, "type": "quantitative", "scale": {"domain": [-4, 4], "nice": false}}, "text": {"field": "label"}}},
        {"data": {"values": [{"label": "NAO index"}]}, "mark": {"type": "text", "align": "right", "baseline": "alphabetic", "dy": -7, "fontSize": 18},
         "encoding": {"x": {"datum": {"year": 2013, "month": 1, "date": 29, "utc": true}, "type": "temporal", "scale": {"type": "utc", "domain": [{"year": 2012, "month": 9, "date": 18, "utc": true}, {"year": 2013, "month": 1, "date": 29, "utc": true}]}}, "y": {"datum": 4, "type": "quantitative", "scale": {"domain": [-4, 4], "nice": false}}, "text": {"field": "label"}}}
      ]
    },
    {
      "width": 528, "height": 122,
      "layer": [
        {"data": {"name": "p3"}, "mark": {"type": "area", "color": "#e6dc32", "clip": true},
         "encoding": {
           "x": {"field": "date", "type": "temporal", "title": null, "scale": {"type": "utc", "domain": [{"year": 2012, "month": 9, "date": 18, "utc": true}, {"year": 2013, "month": 1, "date": 29, "utc": true}]},
                 "axis": {"values": [{"year": 2012, "month": 10, "date": 1, "utc": true}, {"year": 2012, "month": 10, "date": 16, "utc": true}, {"year": 2012, "month": 11, "date": 1, "utc": true}, {"year": 2012, "month": 11, "date": 16, "utc": true}, {"year": 2012, "month": 12, "date": 1, "utc": true}, {"year": 2012, "month": 12, "date": 16, "utc": true}, {"year": 2013, "month": 1, "date": 1, "utc": true}, {"year": 2013, "month": 1, "date": 16, "utc": true}],
                          "labelExpr": "(utcdate(datum.value) == 1 && (utcmonth(datum.value) == 9 || utcmonth(datum.value) == 0)) ? [upper(utcFormat(datum.value, '%-d%b')), utcFormat(datum.value, '%Y')] : upper(utcFormat(datum.value, '%-d%b'))"}},
           "y": {"field": "bhi", "type": "quantitative", "title": null, "scale": {"domain": [-4, 4], "nice": false}, "axis": {"values": [-4, -3, -2, -1, 0, 1, 2, 3, 4], "tickCount": 9, "labelOverlap": false, "grid": true}},
           "y2": {"field": "blo"}
         }},
        {"data": {"values": [{"z": 0}]}, "mark": {"type": "rule", "color": "black", "strokeDash": [6, 4], "strokeWidth": 1.2},
         "encoding": {"y": {"field": "z", "type": "quantitative", "scale": {"domain": [-4, 4], "nice": false}, "title": null}}},
        {"data": {"name": "p3"}, "mark": {"type": "line", "color": "#ff3030", "strokeWidth": 1, "clip": true},
         "encoding": {"x": {"field": "date", "type": "temporal", "title": null, "scale": {"type": "utc", "domain": [{"year": 2012, "month": 9, "date": 18, "utc": true}, {"year": 2013, "month": 1, "date": 29, "utc": true}]}}, "y": {"field": "rhi", "type": "quantitative", "title": null, "scale": {"domain": [-4, 4], "nice": false}}}},
        {"data": {"name": "p3"}, "mark": {"type": "line", "color": "#ff3030", "strokeWidth": 1, "clip": true},
         "encoding": {"x": {"field": "date", "type": "temporal", "title": null, "scale": {"type": "utc", "domain": [{"year": 2012, "month": 9, "date": 18, "utc": true}, {"year": 2013, "month": 1, "date": 29, "utc": true}]}}, "y": {"field": "rlo", "type": "quantitative", "title": null, "scale": {"domain": [-4, 4], "nice": false}}}},
        {"data": {"name": "p3"}, "mark": {"type": "line", "color": "#1e46ff", "strokeWidth": 1, "clip": true},
         "encoding": {"x": {"field": "date", "type": "temporal", "title": null, "scale": {"type": "utc", "domain": [{"year": 2012, "month": 9, "date": 18, "utc": true}, {"year": 2013, "month": 1, "date": 29, "utc": true}]}}, "y": {"field": "mean", "type": "quantitative", "title": null, "scale": {"domain": [-4, 4], "nice": false}}}},
        {"data": {"name": "obs"}, "mark": {"type": "line", "color": "black", "strokeWidth": 2.2, "clip": true},
         "encoding": {"x": {"field": "date", "type": "temporal", "title": null, "scale": {"type": "utc", "domain": [{"year": 2012, "month": 9, "date": 18, "utc": true}, {"year": 2013, "month": 1, "date": 29, "utc": true}]}}, "y": {"field": "v", "type": "quantitative", "title": null, "scale": {"domain": [-4, 4], "nice": false}}}},
        {"data": {"values": [{"label": "mean=-0.4514"}]}, "mark": {"type": "text", "align": "left", "baseline": "top", "dx": 6, "dy": 4, "fontSize": 16},
         "encoding": {"x": {"datum": {"year": 2012, "month": 9, "date": 18, "utc": true}, "type": "temporal", "scale": {"type": "utc", "domain": [{"year": 2012, "month": 9, "date": 18, "utc": true}, {"year": 2013, "month": 1, "date": 29, "utc": true}]}}, "y": {"datum": 4, "type": "quantitative", "scale": {"domain": [-4, 4], "nice": false}}, "text": {"field": "label"}}},
        {"data": {"values": [{"label": "cor(w/obs)=0.5406"}]}, "mark": {"type": "text", "align": "right", "baseline": "top", "dx": 1, "dy": 4, "fontSize": 16},
         "encoding": {"x": {"datum": {"year": 2013, "month": 1, "date": 29, "utc": true}, "type": "temporal", "scale": {"type": "utc", "domain": [{"year": 2012, "month": 9, "date": 18, "utc": true}, {"year": 2013, "month": 1, "date": 29, "utc": true}]}}, "y": {"datum": 4, "type": "quantitative", "scale": {"domain": [-4, 4], "nice": false}}, "text": {"field": "label"}}},
        {"data": {"values": [{"label": "500mb Z (10day Forecast)"}]}, "mark": {"type": "text", "align": "left", "baseline": "alphabetic", "dy": -7, "fontSize": 19},
         "encoding": {"x": {"datum": {"year": 2012, "month": 9, "date": 18, "utc": true}, "type": "temporal", "scale": {"type": "utc", "domain": [{"year": 2012, "month": 9, "date": 18, "utc": true}, {"year": 2013, "month": 1, "date": 29, "utc": true}]}}, "y": {"datum": 4, "type": "quantitative", "scale": {"domain": [-4, 4], "nice": false}}, "text": {"field": "label"}}},
        {"data": {"values": [{"label": "NAO index"}]}, "mark": {"type": "text", "align": "right", "baseline": "alphabetic", "dy": -7, "fontSize": 18},
         "encoding": {"x": {"datum": {"year": 2013, "month": 1, "date": 29, "utc": true}, "type": "temporal", "scale": {"type": "utc", "domain": [{"year": 2012, "month": 9, "date": 18, "utc": true}, {"year": 2013, "month": 1, "date": 29, "utc": true}]}}, "y": {"datum": 4, "type": "quantitative", "scale": {"domain": [-4, 4], "nice": false}}, "text": {"field": "label"}}}
      ]
    },
    {
      "width": 528, "height": 122,
      "layer": [
        {"data": {"name": "p4"}, "mark": {"type": "area", "color": "#e6dc32", "clip": true},
         "encoding": {
           "x": {"field": "date", "type": "temporal", "title": null, "scale": {"type": "utc", "domain": [{"year": 2012, "month": 9, "date": 18, "utc": true}, {"year": 2013, "month": 1, "date": 29, "utc": true}]},
                 "axis": {"values": [{"year": 2012, "month": 10, "date": 1, "utc": true}, {"year": 2012, "month": 10, "date": 16, "utc": true}, {"year": 2012, "month": 11, "date": 1, "utc": true}, {"year": 2012, "month": 11, "date": 16, "utc": true}, {"year": 2012, "month": 12, "date": 1, "utc": true}, {"year": 2012, "month": 12, "date": 16, "utc": true}, {"year": 2013, "month": 1, "date": 1, "utc": true}, {"year": 2013, "month": 1, "date": 16, "utc": true}],
                          "labelExpr": "(utcdate(datum.value) == 1 && (utcmonth(datum.value) == 9 || utcmonth(datum.value) == 0)) ? [upper(utcFormat(datum.value, '%-d%b')), utcFormat(datum.value, '%Y')] : upper(utcFormat(datum.value, '%-d%b'))"}},
           "y": {"field": "bhi", "type": "quantitative", "title": null, "scale": {"domain": [-4, 4], "nice": false}, "axis": {"values": [-4, -3, -2, -1, 0, 1, 2, 3, 4], "tickCount": 9, "labelOverlap": false, "grid": true}},
           "y2": {"field": "blo"}
         }},
        {"data": {"values": [{"z": 0}]}, "mark": {"type": "rule", "color": "black", "strokeDash": [6, 4], "strokeWidth": 1.2},
         "encoding": {"y": {"field": "z", "type": "quantitative", "scale": {"domain": [-4, 4], "nice": false}, "title": null}}},
        {"data": {"name": "p4"}, "mark": {"type": "line", "color": "#ff3030", "strokeWidth": 1, "clip": true},
         "encoding": {"x": {"field": "date", "type": "temporal", "title": null, "scale": {"type": "utc", "domain": [{"year": 2012, "month": 9, "date": 18, "utc": true}, {"year": 2013, "month": 1, "date": 29, "utc": true}]}}, "y": {"field": "rhi", "type": "quantitative", "title": null, "scale": {"domain": [-4, 4], "nice": false}}}},
        {"data": {"name": "p4"}, "mark": {"type": "line", "color": "#ff3030", "strokeWidth": 1, "clip": true},
         "encoding": {"x": {"field": "date", "type": "temporal", "title": null, "scale": {"type": "utc", "domain": [{"year": 2012, "month": 9, "date": 18, "utc": true}, {"year": 2013, "month": 1, "date": 29, "utc": true}]}}, "y": {"field": "rlo", "type": "quantitative", "title": null, "scale": {"domain": [-4, 4], "nice": false}}}},
        {"data": {"name": "p4"}, "mark": {"type": "line", "color": "#1e46ff", "strokeWidth": 1, "clip": true},
         "encoding": {"x": {"field": "date", "type": "temporal", "title": null, "scale": {"type": "utc", "domain": [{"year": 2012, "month": 9, "date": 18, "utc": true}, {"year": 2013, "month": 1, "date": 29, "utc": true}]}}, "y": {"field": "mean", "type": "quantitative", "title": null, "scale": {"domain": [-4, 4], "nice": false}}}},
        {"data": {"name": "obs"}, "mark": {"type": "line", "color": "black", "strokeWidth": 2.2, "clip": true},
         "encoding": {"x": {"field": "date", "type": "temporal", "title": null, "scale": {"type": "utc", "domain": [{"year": 2012, "month": 9, "date": 18, "utc": true}, {"year": 2013, "month": 1, "date": 29, "utc": true}]}}, "y": {"field": "v", "type": "quantitative", "title": null, "scale": {"domain": [-4, 4], "nice": false}}}},
        {"data": {"values": [{"label": "mean=-0.3528"}]}, "mark": {"type": "text", "align": "left", "baseline": "top", "dx": 6, "dy": 4, "fontSize": 16},
         "encoding": {"x": {"datum": {"year": 2012, "month": 9, "date": 18, "utc": true}, "type": "temporal", "scale": {"type": "utc", "domain": [{"year": 2012, "month": 9, "date": 18, "utc": true}, {"year": 2013, "month": 1, "date": 29, "utc": true}]}}, "y": {"datum": 4, "type": "quantitative", "scale": {"domain": [-4, 4], "nice": false}}, "text": {"field": "label"}}},
        {"data": {"values": [{"label": "cor(w/obs)=0.1284"}]}, "mark": {"type": "text", "align": "right", "baseline": "top", "dx": 1, "dy": 4, "fontSize": 16},
         "encoding": {"x": {"datum": {"year": 2013, "month": 1, "date": 29, "utc": true}, "type": "temporal", "scale": {"type": "utc", "domain": [{"year": 2012, "month": 9, "date": 18, "utc": true}, {"year": 2013, "month": 1, "date": 29, "utc": true}]}}, "y": {"datum": 4, "type": "quantitative", "scale": {"domain": [-4, 4], "nice": false}}, "text": {"field": "label"}}},
        {"data": {"values": [{"label": "500mb Z (14day Forecast)"}]}, "mark": {"type": "text", "align": "left", "baseline": "alphabetic", "dy": -7, "fontSize": 19},
         "encoding": {"x": {"datum": {"year": 2012, "month": 9, "date": 18, "utc": true}, "type": "temporal", "scale": {"type": "utc", "domain": [{"year": 2012, "month": 9, "date": 18, "utc": true}, {"year": 2013, "month": 1, "date": 29, "utc": true}]}}, "y": {"datum": 4, "type": "quantitative", "scale": {"domain": [-4, 4], "nice": false}}, "text": {"field": "label"}}},
        {"data": {"values": [{"label": "NAO index"}]}, "mark": {"type": "text", "align": "right", "baseline": "alphabetic", "dy": -7, "fontSize": 18},
         "encoding": {"x": {"datum": {"year": 2013, "month": 1, "date": 29, "utc": true}, "type": "temporal", "scale": {"type": "utc", "domain": [{"year": 2012, "month": 9, "date": 18, "utc": true}, {"year": 2013, "month": 1, "date": 29, "utc": true}]}}, "y": {"datum": 4, "type": "quantitative", "scale": {"domain": [-4, 4], "nice": false}}, "text": {"field": "label"}}}
      ]
    }
  ],
  "config": {
    "view": {"stroke": "black", "strokeWidth": 2},
    "axis": {"domain": false, "grid": true, "gridColor": "#b4b4b4", "gridDash": [2, 3], "gridWidth": 1, "tickColor": "black", "labelColor": "black", "labelFont": "Liberation Sans", "tickSize": 4},
    "axisX": {"labelFontSize": 10, "labelPadding": 2, "labelLineHeight": 12, "labelAngle": 0, "labelFlush": false, "labelOverlap": false},
    "axisY": {"labelFontSize": 11, "labelPadding": 2, "labelOverlap": false},
    "title": {"font": "DejaVu Sans", "fontWeight": "normal", "color": "black"},
    "text": {"font": "DejaVu Sans", "color": "black"}
  }
}
